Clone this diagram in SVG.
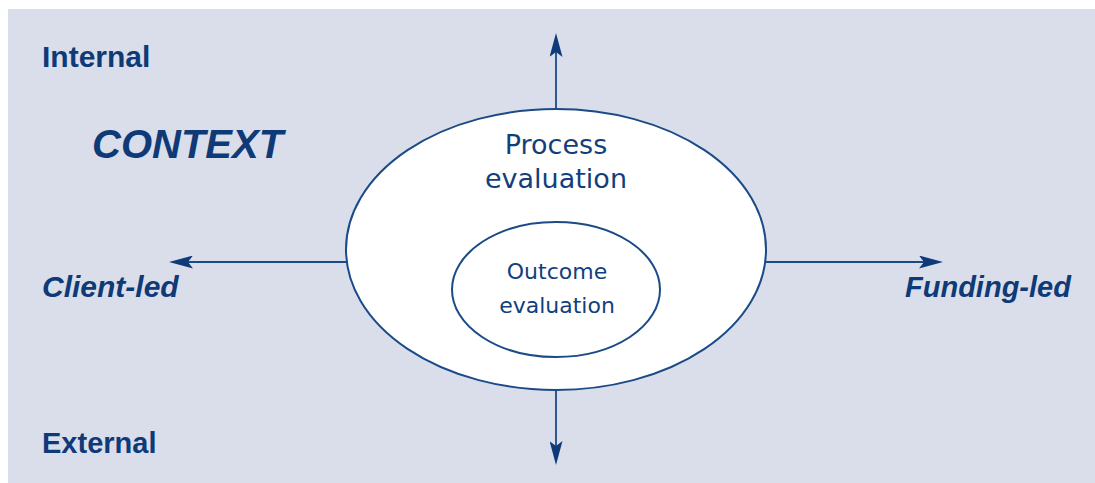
<svg xmlns="http://www.w3.org/2000/svg" width="1095" height="483" viewBox="0 0 1095 483">
<style>
.lbl{font-family:"Liberation Sans",Arial,sans-serif;font-weight:bold;fill:#0e3a78}
.it{font-style:italic}
.in{font-family:"DejaVu Sans","Open Sans",sans-serif;fill:#123f7c;text-anchor:middle}
.ell{fill:#ffffff;stroke:#1a4a87;stroke-width:2}
.conn{stroke:#1a4a87;stroke-width:1.8;fill:none;marker-end:url(#ah)}
</style>
<defs>
<marker id="ah" viewBox="0 0 24 13" refX="5" refY="6.5" markerWidth="24" markerHeight="13" markerUnits="userSpaceOnUse" orient="auto">
<path d="M0,0 L24,6.5 L0,13 L5,6.5 Z" fill="#0e3a78"/>
</marker>
</defs>
<rect x="8" y="9" width="1087" height="474" fill="#dadeea"/>
<g id="connectors">
<line class="conn" x1="556" y1="109" x2="556" y2="52"/>
<line class="conn" x1="556" y1="390" x2="556" y2="446"/>
<line class="conn" x1="347" y1="262" x2="188" y2="262"/>
<line class="conn" x1="765" y1="262" x2="924" y2="262"/>
</g>
<g id="process">
<ellipse class="ell" cx="556" cy="249.5" rx="210" ry="140.5"/>
<text class="in" x="556" y="154" font-size="27">Process</text>
<text class="in" x="556" y="188" font-size="27">evaluation</text>
</g>
<g id="outcome">
<ellipse class="ell" cx="556" cy="289.5" rx="104" ry="67.5"/>
<text class="in" x="557" y="279" font-size="22">Outcome</text>
<text class="in" x="557" y="313" font-size="22">evaluation</text>
</g>
<g id="internal"><text class="lbl" x="42" y="67" font-size="30">Internal</text></g>
<g id="context"><text class="lbl it" x="92" y="158" font-size="40">CONTEXT</text></g>
<g id="client-led"><text class="lbl it" x="42" y="297" font-size="30">Client-led</text></g>
<g id="funding-led"><text class="lbl it" x="905" y="297" font-size="29">Funding-led</text></g>
<g id="external"><text class="lbl" x="42" y="453" font-size="29">External</text></g>
</svg>
